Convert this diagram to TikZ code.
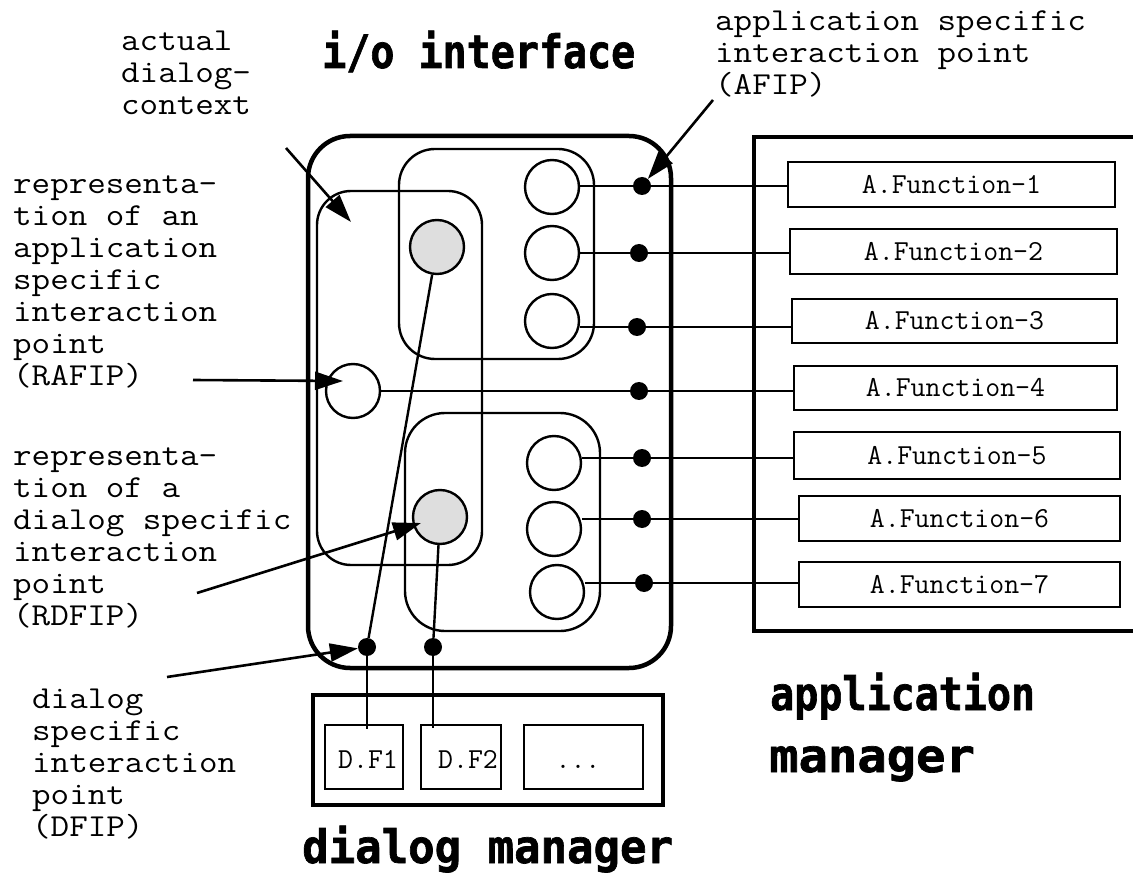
\documentclass[tikz,border=0pt]{standalone}
\usepackage{fontspec}
\newfontfamily\titlefont[BoldFeatures={FakeBold=1.5}]{DejaVu Sans Mono}
\newfontfamily\notefont[FakeStretch=1.125]{Latin Modern Mono}
\usetikzlibrary{arrows.meta}

\begin{document}
\begin{tikzpicture}[x=1pt,y=-1pt,
  wire/.style={line width=2.4pt},
  heavy/.style={line width=4.5pt},
  port/.style={circle,draw,line width=2.4pt,minimum size=54pt,inner sep=0pt},
  dialogport/.style={port,fill=black!13},
  joint/.style={circle,fill=black,minimum size=18pt,inner sep=0pt},
  boxfont/.style={font=\ttfamily\fontsize{29}{32}\selectfont},
  funcbox/.style={draw,line width=2.6pt,inner sep=0pt,boxfont},
  note/.style={font=\notefont\fontsize{32}{32}\selectfont,align=left,
    anchor=north west,inner sep=0pt},
  pointer/.style={line width=2.6pt,-{Triangle[length=28pt,width=18pt]}},
  headline/.style={font=\titlefont\bfseries\fontsize{40}{44}\selectfont,
    anchor=base west,inner sep=0pt}
]
\useasboundingbox (0,0) rectangle (1133,877);

% ---------- i/o interface ----------
\draw[heavy,rounded corners=42pt] (308,136) rectangle (671,668);
\draw[wire,rounded corners=34pt] (317,191) rectangle (482,565);
\draw[wire,rounded corners=36pt] (399,149) rectangle (594,359);
\draw[wire,rounded corners=40pt] (405,413) rectangle (600,631);

\node[port] (c1) at (552,187) {};
\node[port] (c2) at (552,253) {};
\node[port] (c3) at (552,321) {};
\node[port] (ra) at (353,391) {};
\node[port] (c5) at (554,463) {};
\node[port] (c6) at (554,529) {};
\node[port] (c7) at (557,592) {};
\node[dialogport] (g1) at (437,247) {};
\node[dialogport] (g2) at (440,517) {};

\node[joint] (d1) at (642,186) {};
\node[joint] (d2) at (639,253) {};
\node[joint] (d3) at (637,327) {};
\node[joint] (d4) at (639,391) {};
\node[joint] (d5) at (642,458) {};
\node[joint] (d6) at (642,519) {};
\node[joint] (d7) at (644,583) {};

\node[joint] (b1) at (367,647) {};
\node[joint] (b2) at (433,647) {};

% ---------- application manager ----------
\draw[heavy] (1140,137) -- (754,137) -- (754,631) -- (1140,631);

\node[funcbox,minimum width=327pt,minimum height=45pt] (af1) at (951.5,184.5) {A.Function-1};
\node[funcbox,minimum width=327pt,minimum height=45pt] (af2) at (953.5,251.5) {A.Function-2};
\node[funcbox,minimum width=325pt,minimum height=44pt] (af3) at (954.5,321) {A.Function-3};
\node[funcbox,minimum width=323pt,minimum height=44pt] (af4) at (955.5,388) {A.Function-4};
\node[funcbox,minimum width=326pt,minimum height=47pt] (af5) at (957,455.5) {A.Function-5};
\node[funcbox,minimum width=321pt,minimum height=45pt] (af6) at (959.5,518.5) {A.Function-6};
\node[funcbox,minimum width=321pt,minimum height=45pt] (af7) at (959.5,584.5) {A.Function-7};

% ports wired to the application functions
\draw[wire] (d1 -| c1.east) -- (d1) -- (d1 -| af1.west);
\draw[wire] (d2 -| c2.east) -- (d2) -- (d2 -| af2.west);
\draw[wire] (d3 -| c3.east) -- (d3) -- (d3 -| af3.west);
\draw[wire] (d4 -| ra.east) -- (d4) -- (d4 -| af4.west);
\draw[wire] (d5 -| c5.east) -- (d5) -- (d5 -| af5.west);
\draw[wire] (d6 -| c6.east) -- (d6) -- (d6 -| af6.west);
\draw[wire] (d7 -| c7.east) -- (d7) -- (d7 -| af7.west);

% ---------- dialog manager ----------
\draw[heavy] (313,695) rectangle (663,805);
\node[funcbox,minimum width=78pt,minimum height=64pt] (df1) at (364,757) {};
\node[funcbox,minimum width=80pt,minimum height=64pt] (df2) at (461,757) {};
\node[funcbox,minimum width=119pt,minimum height=64pt] (dfx) at (583.5,757) {};
\node[boxfont,anchor=base,inner sep=0pt] (tf1) at (368,768) {D.F1};
\node[boxfont,anchor=base,inner sep=0pt] (tf2) at (468,768) {D.F2};
\node[boxfont,anchor=base,inner sep=0pt] (tfx) at (578,768) {...};

\draw[wire] (b1) -- (g1);
\draw[wire] (b1) -- ([yshift=-5pt]b1 |- df1.north);
\draw[wire] (b2) -- (g2);
\draw[wire] (b2) -- ([yshift=-4pt]b2 |- df2.north);

% ---------- headlines ----------
\node[headline] (tio) at (322,68) {\scalebox{1}[1.15]{i/o interface}};
\node[headline] (tdm) at (302,863) {\scalebox{1.1}[1.15]{dialog manager}};
\node[headline] (tam1) at (770,710) {\scalebox{1}[1.15]{application}};
\node[headline] (tam2) at (769,772) {\scalebox{1.22}[1.15]{manager}};

% ---------- annotations ----------
\node[note] (nctx) at (121,27.6) {\strut actual\\dialog-\\context};
\node[note] (nafip) at (715,8) {\strut application specific\\interaction point\\(AFIP)};
\node[note] (nrafip) at (13,170.6) {\strut representa-\\tion of an\\application\\specific\\interaction\\point\\(RAFIP)};
\node[note] (nrdfip) at (13,442.6) {\strut representa-\\tion of a\\dialog specific\\interaction\\point\\(RDFIP)};
\node[note] (ndfip) at (32,685.6) {\strut dialog\\specific\\interaction\\point\\(DFIP)};

\coordinate (sctx) at (286,148);
\coordinate (tctx) at (351,222);
\coordinate (safip) at (713,100);
\coordinate (srafip) at (193,380);
\coordinate (trafip) at (343,381);
\coordinate (srdfip) at (197,593);
\coordinate (trdfip) at (421,523);
\coordinate (sdfip) at (167,677);

\draw[pointer] (sctx) -- (tctx);
\draw[pointer] (safip) -- (d1);
\draw[pointer] (srafip) -- (trafip);
\draw[pointer] (srdfip) -- (trdfip);
\draw[pointer] (sdfip) -- (b1);
\end{tikzpicture}
\end{document}
